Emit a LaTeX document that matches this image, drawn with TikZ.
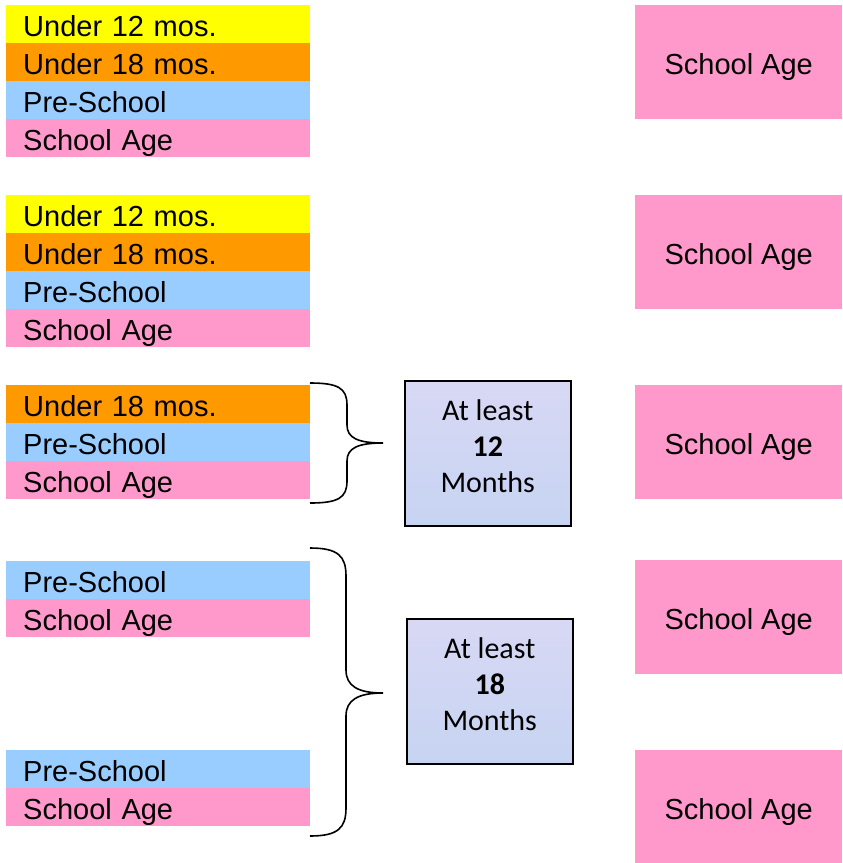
\documentclass[tikz,border=0pt]{standalone}
\usepackage{fontspec}
\setmainfont{Liberation Sans}
\newfontfamily\calib{Carlito}
\definecolor{cyel}{HTML}{FFFF00}
\definecolor{cora}{HTML}{FF9900}
\definecolor{cblu}{HTML}{99CCFF}
\definecolor{cpnk}{HTML}{FF99CC}
\definecolor{lavA}{HTML}{C6D4F2}
\definecolor{lavB}{HTML}{D8D8F4}
\begin{document}
\begin{tikzpicture}[x=1pt,y=-1pt,
  row/.style={rectangle, anchor=north west, inner xsep=17pt, inner ysep=0pt,
    text width=270pt, minimum height=38pt, text height=25pt, text depth=1pt,
    align=left, font=\fontsize{29}{32}\selectfont},
  yel/.style={row, fill=cyel},
  ora/.style={row, fill=cora},
  blu/.style={row, fill=cblu},
  pnk/.style={row, fill=cpnk},
  sabox/.style={rectangle, anchor=north west, fill=cpnk, minimum width=207pt,
    minimum height=114pt, inner sep=0pt, text height=25pt, text depth=1pt,
    font=\fontsize{29}{32}\selectfont},
  leastbox/.style={rectangle, anchor=north west, draw=black, line width=1.5pt,
    inner sep=0pt, minimum width=166pt, minimum height=145pt,
    top color=lavB, bottom color=lavA},
  leasttext/.style={align=center, inner sep=0pt,
    font=\calib\fontsize{30}{36}\selectfont},
  brace/.style={draw=black, line width=1.6pt}]
\useasboundingbox (0,0) rectangle (843,863);
% block 1
\node[yel] (a1) at (6,5) {Under 12 mos.};
\node[ora] (a2) at (6,43) {Under 18 mos.};
\node[blu] (a3) at (6,81) {Pre-School};
\node[pnk] (a4) at (6,119) {School Age};
% block 2
\node[yel] (b1) at (6,195) {Under 12 mos.};
\node[ora] (b2) at (6,233) {Under 18 mos.};
\node[blu] (b3) at (6,271) {Pre-School};
\node[pnk] (b4) at (6,309) {School Age};
% block 3
\node[ora] (c2) at (6,385) {Under 18 mos.};
\node[blu] (c3) at (6,423) {Pre-School};
\node[pnk] (c4) at (6,461) {School Age};
% block 4
\node[blu] (d3) at (6,561) {Pre-School};
\node[pnk] (d4) at (6,599) {School Age};
% block 5
\node[blu] (e3) at (6,750) {Pre-School};
\node[pnk] (e4) at (6,788) {School Age};
% right boxes
\node[sabox] (r1) at (635,5) {School Age};
\node[sabox] (r2) at (635,195) {School Age};
\node[sabox] (r3) at (635,385) {School Age};
\node[sabox] (r4) at (635,560) {School Age};
\node[sabox] (r5) at (635,750) {School Age};
% at least boxes
\node[leastbox] (m12) at (404,380) {};
\node[leasttext] (m12t) at ([yshift=7pt]m12.center) {At least\\\textbf{12}\\Months};
\node[leastbox] (m18) at (406,618) {};
\node[leasttext] (m18t) at ([yshift=7pt]m18.center) {At least\\\textbf{18}\\Months};
% braces
\coordinate (t1) at (383,443);
\draw[brace] (310,383) .. controls (338,383) and (347,388) .. (347,405)
  -- (347,425) .. controls (347,438) and (358,443) .. (t1)
  .. controls (358,443) and (347,448) .. (347,461)
  -- (347,481) .. controls (347,498) and (338,503) .. (310,503);
\coordinate (t2) at (383,693);
\draw[brace] (310,548) .. controls (338,548) and (346,556) .. (346,576)
  -- (346,670) .. controls (346,686) and (358,693) .. (t2)
  .. controls (358,693) and (346,700) .. (346,716)
  -- (346,808) .. controls (346,828) and (338,836) .. (310,836);
\end{tikzpicture}
\end{document}
